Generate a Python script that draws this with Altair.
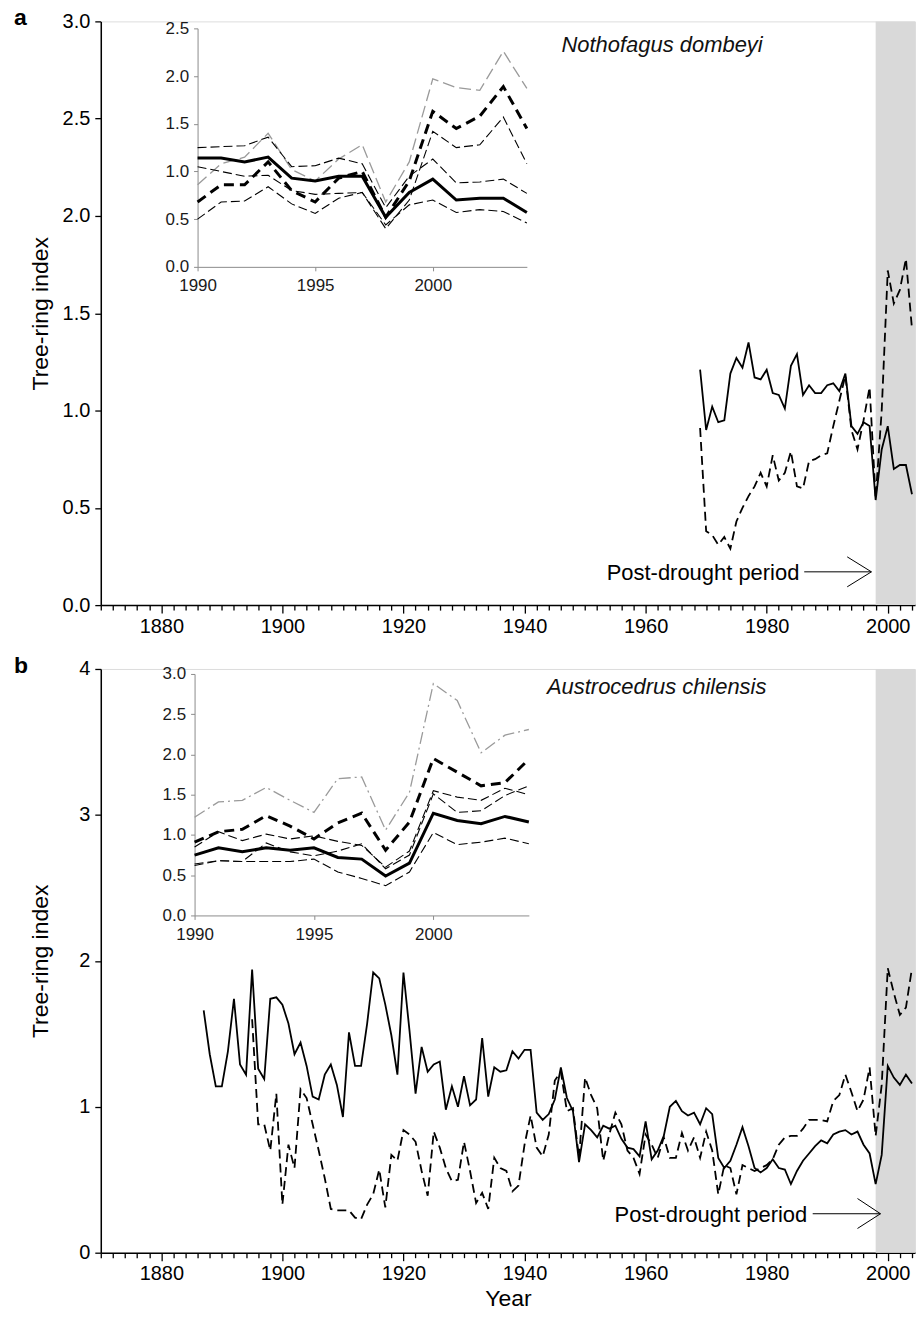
import altair as alt
import pandas as pd

FONT = "Liberation Sans"

# ---------------- data ----------------
# Panel a: Nothofagus dombeyi, main series
years_a = list(range(1969, 2005))
a_solid = [1.21, 0.90, 1.02, 0.94, 0.95, 1.19, 1.27, 1.22, 1.35, 1.17, 1.16, 1.21,
           1.09, 1.08, 1.01, 1.23, 1.29, 1.08, 1.13, 1.09, 1.09, 1.13, 1.14, 1.10,
           1.19, 0.92, 0.88, 0.94, 0.92, 0.54, 0.80, 0.92, 0.70, 0.72, 0.72, 0.57]
a_dashed = [0.91, 0.38, 0.36, 0.31, 0.35, 0.29, 0.43, 0.50, 0.56, 0.61, 0.68, 0.61,
            0.77, 0.64, 0.68, 0.79, 0.61, 0.60, 0.74, 0.75, 0.77, 0.78, 0.92, 1.05,
            1.18, 0.90, 0.80, 0.95, 1.12, 0.55, 1.00, 1.72, 1.55, 1.62, 1.78, 1.42]

# Panel b: Austrocedrus chilensis, main series
years_b_solid = list(range(1887, 2005))
b_solid = [1.66, 1.36, 1.14, 1.14, 1.38, 1.74, 1.29, 1.22, 1.94, 1.26, 1.19, 1.74,
           1.75, 1.70, 1.57, 1.36, 1.44, 1.28, 1.07, 1.05, 1.22, 1.29, 1.15, 0.93,
           1.51, 1.28, 1.28, 1.57, 1.92, 1.88, 1.70, 1.49, 1.22, 1.92, 1.52, 1.09,
           1.41, 1.24, 1.29, 1.31, 0.98, 1.14, 1.00, 1.21, 1.01, 1.05, 1.47, 1.07,
           1.27, 1.24, 1.25, 1.38, 1.33, 1.39, 1.39, 0.96, 0.91, 0.95, 1.05, 1.27,
           1.06, 0.97, 0.62, 0.88, 0.84, 0.79, 0.87, 0.85, 0.87, 0.78, 0.72, 0.71,
           0.66, 0.90, 0.64, 0.70, 0.80, 1.00, 1.04, 0.97, 0.94, 0.96, 0.88, 0.99,
           0.95, 0.65, 0.58, 0.63, 0.74, 0.86, 0.73, 0.58, 0.55, 0.58, 0.64, 0.58,
           0.57, 0.47, 0.56, 0.63, 0.68, 0.73, 0.77, 0.75, 0.81, 0.83, 0.84, 0.81,
           0.83, 0.74, 0.68, 0.47, 0.67, 1.28, 1.20, 1.15, 1.22, 1.16]
years_b_dashed = list(range(1895, 2005))
b_dashed = [1.60, 0.88, 0.88, 0.70, 1.09, 0.33, 0.74, 0.58, 1.12, 1.06, 0.88, 0.70,
            0.51, 0.30, 0.29, 0.29, 0.29, 0.24, 0.23, 0.33, 0.40, 0.57, 0.31, 0.67,
            0.63, 0.84, 0.81, 0.76, 0.56, 0.39, 0.83, 0.72, 0.58, 0.49, 0.50, 0.76,
            0.56, 0.34, 0.41, 0.30, 0.65, 0.58, 0.56, 0.42, 0.46, 0.74, 0.94, 0.72,
            0.66, 0.81, 1.18, 1.24, 0.97, 0.99, 0.65, 1.20, 1.08, 0.99, 0.63, 0.81,
            0.96, 0.88, 0.70, 0.65, 0.54, 0.81, 0.74, 0.65, 0.79, 0.65, 0.65, 0.82,
            0.70, 0.79, 0.65, 0.83, 0.70, 0.40, 0.60, 0.58, 0.40, 0.60, 0.58, 0.56,
            0.58, 0.60, 0.64, 0.74, 0.79, 0.80, 0.80, 0.85, 0.91, 0.91, 0.91, 0.90,
            1.04, 1.08, 1.22, 1.10, 0.97, 1.05, 1.27, 0.80, 1.15, 1.95, 1.78, 1.63,
            1.68, 1.95]

# Insets (1990-2004)
years_in = list(range(1990, 2005))
ia_mean_solid = [1.14, 1.14, 1.10, 1.15, 0.93, 0.90, 0.95, 0.95, 0.52, 0.78, 0.92, 0.70, 0.72, 0.72, 0.57]
ia_mean_dash = [0.68, 0.86, 0.86, 1.10, 0.80, 0.68, 0.93, 1.00, 0.52, 0.90, 1.63, 1.45, 1.58, 1.89, 1.45]
ia_gray = [0.86, 1.08, 1.15, 1.40, 1.02, 0.90, 1.13, 1.28, 0.68, 1.10, 1.97, 1.88, 1.85, 2.26, 1.87]
ia_thin1 = [1.25, 1.26, 1.27, 1.36, 1.05, 1.06, 1.14, 1.08, 0.62, 0.95, 1.13, 0.88, 0.89, 0.92, 0.77]
ia_thin2 = [1.05, 1.00, 0.95, 0.96, 0.80, 0.76, 0.77, 0.78, 0.44, 0.65, 0.70, 0.57, 0.60, 0.58, 0.46]
ia_thin3 = [0.50, 0.68, 0.69, 0.84, 0.66, 0.56, 0.72, 0.78, 0.40, 0.70, 1.42, 1.25, 1.28, 1.57, 1.08]

ib_mean_solid = [0.75, 0.84, 0.79, 0.84, 0.81, 0.84, 0.72, 0.70, 0.49, 0.65, 1.27, 1.18, 1.14, 1.23, 1.16]
ib_mean_dash = [0.91, 1.04, 1.07, 1.24, 1.11, 0.95, 1.15, 1.27, 0.81, 1.16, 1.95, 1.78, 1.61, 1.65, 1.94]
ib_gray = [1.22, 1.41, 1.43, 1.59, 1.43, 1.28, 1.70, 1.72, 1.06, 1.53, 2.88, 2.67, 2.02, 2.24, 2.31]
ib_thin1 = [0.85, 1.04, 0.93, 1.01, 0.95, 0.99, 0.92, 0.87, 0.60, 0.80, 1.55, 1.47, 1.43, 1.58, 1.50]
ib_thin2 = [0.62, 0.68, 0.67, 0.90, 0.79, 0.74, 0.80, 0.89, 0.58, 0.75, 1.51, 1.28, 1.30, 1.49, 1.61]
ib_thin3 = [0.64, 0.68, 0.67, 0.67, 0.67, 0.70, 0.54, 0.46, 0.37, 0.54, 1.03, 0.88, 0.91, 0.96, 0.89]

# post-drought band and annotation arrows (data units)
band_start = [1998]
band_end = [2004.5]
arrow_a_x = [1986.2, 1997.3]
arrow_a_y = [0.171, 0.171]
head_a_x = [1993.3, 1997.3, 1993.3]
head_a_y = [0.248, 0.171, 0.094]
arrow_b_x = [1987.6, 1998.8]
arrow_b_y = [0.267, 0.267]
head_b_x = [1995.0, 1998.8, 1995.0]
head_b_y = [0.371, 0.267, 0.166]

# ---------------- chart ----------------
W, H = 816, 585
XDOM = [1870, 2004.5]


def df(years, vals):
    return pd.DataFrame({"year": years, "value": vals, "i": list(range(len(years)))})


def main_x(title):
    kw = dict(
        values=list(range(1870, 2005, 2)),
        labelExpr="datum.value % 20 == 0 ? datum.value : ''",
        tickSize={"condition": {"test": "datum.value % 20 == 0", "value": 8}, "value": 5},
        tickColor="black", tickWidth=1.3, domainColor="black", domainWidth=1.5,
        labelFont=FONT, labelFontSize=20, labelColor="black", labelPadding=3,
        labelOverlap=False, labelFlush=False, grid=False,
        titleFont=FONT, titleFontSize=23, titleFontWeight="normal", titleColor="black",
        titlePadding=4,
    )
    kw["title"] = title if title else None
    return alt.X("year:Q", scale=alt.Scale(domain=XDOM, nice=False, zero=False), axis=alt.Axis(**kw))


def main_y(dom, vals, fmt):
    return alt.Y("value:Q", scale=alt.Scale(domain=dom, nice=False, zero=True),
                 axis=alt.Axis(values=vals, format=fmt, tickSize=6, tickColor="black", tickWidth=1.3,
                               domainColor="black", domainWidth=1.5, labelFont=FONT, labelFontSize=20,
                               labelColor="black", labelPadding=5, grid=False,
                               title="Tree-ring index", titleFont=FONT, titleFontSize=23,
                               titleFontWeight="normal", titleColor="black",
                               minExtent=46, maxExtent=46, titlePadding=2))


def inset_x(rng, yoff):
    return alt.X("year:Q", scale=alt.Scale(domain=[1990, 2004], range=rng, nice=False, zero=False),
                 axis=alt.Axis(orient="bottom", offset=yoff, values=[1990, 1995, 2000], format="d",
                               tickSize=4, tickColor="#8c8c8c", domainColor="#8c8c8c", domainWidth=1,
                               labelFont=FONT, labelFontSize=17, labelColor="#1a1a1a", labelPadding=7,
                               grid=False, title=None, labelFlush=False))


def inset_y(dom, vals, rng, xoff):
    return alt.Y("value:Q", scale=alt.Scale(domain=dom, range=rng, nice=False),
                 axis=alt.Axis(orient="left", offset=xoff, values=vals, format=".1f",
                               tickSize=4, tickColor="#8c8c8c", domainColor="#8c8c8c", domainWidth=1,
                               labelFont=FONT, labelFontSize=17, labelColor="#1a1a1a", labelPadding=5,
                               grid=False, title=None))


def line(data, x, y, color="black", width=1.8, dash=None):
    kw = dict(color=color, strokeWidth=width, clip=False)
    if dash:
        kw["strokeDash"] = dash
    return alt.Chart(data).mark_line(**kw).encode(x=x, y=y, order="i:Q")


def panel(letter, species, sp_pos, solid_df, dashed_df, ydom, yvals, yfmt, xtitle,
          arrow, head, text_pos, inset_lines, in_rng_x, in_rng_y, in_dom, in_vals, gray_dash):
    X = main_x(xtitle)
    Y = main_y(ydom, yvals, yfmt)
    band = alt.Chart(pd.DataFrame({"year": band_start, "year2": band_end})).mark_rect(
        color="#d9d9d9").encode(x=X, x2="year2:Q", y=alt.value(0), y2=alt.value(H))
    l1 = line(solid_df, X, Y, width=1.8)
    l2 = line(dashed_df, X, Y, width=1.8, dash=[9, 5])
    arr = line(df(arrow[0], arrow[1]), X, Y, width=1)
    hd = line(df(head[0], head[1]), X, Y, width=1)
    txt = alt.Chart(pd.DataFrame({"year": [text_pos[0]], "value": [text_pos[1]]})).mark_text(
        text="Post-drought period", align="right", baseline="middle", font=FONT, fontSize=22,
        color="black").encode(x=X, y=Y)
    sp = alt.Chart(pd.DataFrame({"year": [sp_pos[0]], "value": [sp_pos[1]]})).mark_text(
        text=species, align="left", baseline="middle", font=FONT, fontSize=22, fontStyle="italic",
        color="#111111").encode(x=X, y=Y)
    let = alt.Chart(pd.DataFrame({"t": [letter]})).mark_text(
        align="left", baseline="alphabetic", font=FONT, fontSize=23, fontWeight="bold",
        color="black").encode(text="t:N", x=alt.value(-87), y=alt.value(4))
    main = alt.layer(band, l1, l2, arr, hd, txt, sp, let)

    IX = inset_x(in_rng_x, -(H - in_rng_y[0]))
    IY = inset_y(in_dom, in_vals, in_rng_y, -in_rng_x[0])
    s, d, g, t1, t2, t3 = inset_lines
    ins = alt.layer(
        line(df(years_in, g), IX, IY, color="#9a9a9a", width=1.3, dash=gray_dash),
        line(df(years_in, t1), IX, IY, width=1.1, dash=[9, 4]),
        line(df(years_in, t2), IX, IY, width=1.1, dash=[9, 4]),
        line(df(years_in, t3), IX, IY, width=1.1, dash=[9, 4]),
        line(df(years_in, s), IX, IY, width=3),
        line(df(years_in, d), IX, IY, width=3, dash=[10, 6]),
    )
    return alt.layer(main, ins).resolve_scale(x="independent", y="independent").properties(
        width=W, height=H)


panel_a = panel("a", "Nothofagus dombeyi", (1946.1, 2.88),
                df(years_a, a_solid), df(years_a, a_dashed),
                [0, 3], [0, 0.5, 1, 1.5, 2, 2.5, 3], ".1f", None,
                (arrow_a_x, arrow_a_y), (head_a_x, head_a_y), (1985.4, 0.164),
                (ia_mean_solid, ia_mean_dash, ia_gray, ia_thin1, ia_thin2, ia_thin3),
                [97, 427], [246, 7], [0, 2.5], [0, 0.5, 1, 1.5, 2, 2.5], [12, 5])

panel_b = panel("b", "Austrocedrus chilensis", (1943.7, 3.877),
                df(years_b_solid, b_solid), df(years_b_dashed, b_dashed),
                [0, 4], [0, 1, 2, 3, 4], "d", "Year",
                (arrow_b_x, arrow_b_y), (head_b_x, head_b_y), (1986.7, 0.26),
                (ib_mean_solid, ib_mean_dash, ib_gray, ib_thin1, ib_thin2, ib_thin3),
                [94, 429], [247, 5], [0, 3], [0, 0.5, 1, 1.5, 2, 2.5, 3], [12, 4, 2, 4])

chart = alt.vconcat(panel_a, panel_b, spacing=17).properties(
    padding={"left": 13, "top": 5, "right": 0, "bottom": 0}
).configure_view(stroke=None).configure(font=FONT, background="white")

chart.save("out.html", embed_options={"renderer": "svg", "actions": False})
